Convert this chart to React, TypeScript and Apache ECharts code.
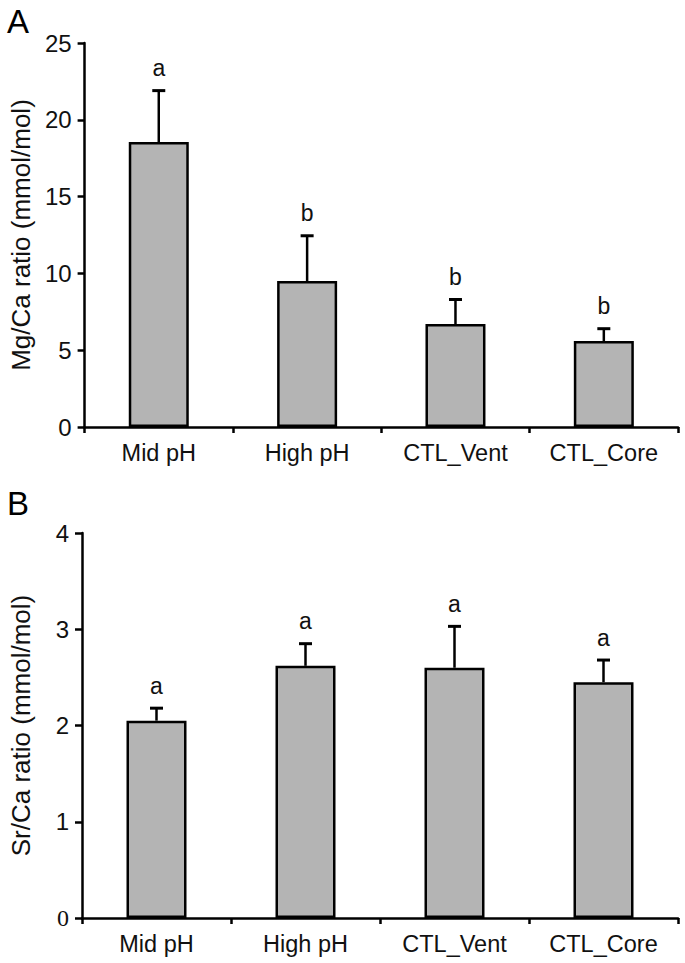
import React, { useEffect, useRef } from "react";
import * as echarts from "echarts";

const categories = ["Mid pH", "High pH", "CTL_Vent", "CTL_Core"];
const mgCaMean = [18.55, 9.5, 6.7, 5.6];
const mgCaSD = [3.35, 2.95, 1.6, 0.8];
const mgCaLetters = ["a", "b", "b", "b"];
const srCaMean = [2.05, 2.62, 2.6, 2.45];
const srCaSD = [0.13, 0.23, 0.43, 0.23];
const srCaLetters = ["a", "a", "a", "a"];
const mgCaTicks = { min: 0, max: 25, interval: 5 };
const srCaTicks = { min: 0, max: 4, interval: 1 };

const FONT = "'Liberation Sans', Arial, Helvetica, sans-serif";
const TXT = "#111111";
const BAR = "#b4b4b4";

function errorSeries(mean: number[], sd: number[], letters: string[], idx: number) {
  return {
    type: "custom",
    xAxisIndex: idx,
    yAxisIndex: idx,
    z: 5,
    data: mean.map((m, i) => [i, m, m + sd[i]]),
    renderItem: (params: any, api: any) => {
      const x = api.value(0);
      const p0 = api.coord([x, api.value(1)]);
      const p1 = api.coord([x, api.value(2)]);
      return {
        type: "group",
        children: [
          {
            type: "line",
            shape: { x1: p0[0], y1: p0[1], x2: p1[0], y2: p1[1] },
            style: { stroke: "#000", lineWidth: 2.5 },
          },
          {
            type: "line",
            shape: { x1: p1[0] - 6.5, y1: p1[1], x2: p1[0] + 6.5, y2: p1[1] },
            style: { stroke: "#000", lineWidth: 3 },
          },
          {
            type: "text",
            x: p1[0],
            y: p1[1] - 11,
            style: {
              text: letters[params.dataIndex],
              fill: TXT,
              fontSize: 23,
              fontFamily: FONT,
              align: "center",
              verticalAlign: "bottom",
            },
          },
        ],
      };
    },
  };
}

function catAxis(idx: number) {
  return {
    type: "category",
    gridIndex: idx,
    data: categories,
    axisLine: { show: true, lineStyle: { color: "#000", width: 2.5 } },
    axisTick: { show: true, length: 6, lineStyle: { color: "#000", width: 2.5 } },
    axisLabel: { color: TXT, fontSize: 23.5, fontFamily: FONT, margin: 14 },
    splitLine: { show: false },
  };
}

function valAxis(idx: number, ticks: any, name: string, serifZero: boolean) {
  return {
    type: "value",
    gridIndex: idx,
    min: ticks.min,
    max: ticks.max,
    interval: ticks.interval,
    name,
    nameLocation: "middle",
    nameRotate: 90,
    nameGap: 48,
    nameTextStyle: { color: TXT, fontSize: 26, fontFamily: FONT },
    axisLine: { show: true, lineStyle: { color: "#000", width: 2.5 } },
    axisTick: { show: true, length: 7, lineStyle: { color: "#000", width: 2.5 } },
    axisLabel: {
      color: TXT,
      fontSize: 24,
      fontFamily: FONT,
      margin: 13,
      formatter: (v: number) => (serifZero && v === 0 ? "{s|0}" : String(v)),
      rich: { s: { fontFamily: "'Liberation Serif', serif", fontSize: 24, color: TXT } },
    },
    splitLine: { show: false },
  };
}

function barSeries(mean: number[], idx: number) {
  return {
    type: "bar",
    xAxisIndex: idx,
    yAxisIndex: idx,
    barWidth: 60,
    data: mean,
    itemStyle: { color: BAR, borderColor: "#000", borderWidth: 2.5 },
    z: 3,
  };
}

export default function App() {
  const ref = useRef<HTMLDivElement>(null);
  useEffect(() => {
    if (!ref.current) return;
    const chart = echarts.init(ref.current, undefined, { renderer: "svg" });
    chart.setOption({
      animation: false,
      backgroundColor: "#ffffff",
      grid: [
        { left: 82, top: 43, width: 596, height: 384 },
        { left: 82, top: 533, width: 596, height: 385 },
      ],
      xAxis: [catAxis(0), catAxis(1)],
      yAxis: [
        valAxis(0, mgCaTicks, "Mg/Ca ratio (mmol/mol)", false),
        valAxis(1, srCaTicks, "Sr/Ca ratio (mmol/mol)", true),
      ],
      graphic: [
        { type: "text", left: 7, top: 5, style: { text: "A", fontSize: 33, fontFamily: FONT, fill: "#000" } },
        { type: "text", left: 7, top: 487, style: { text: "B", fontSize: 33, fontFamily: FONT, fill: "#000" } },
      ],
      series: [
        barSeries(mgCaMean, 0),
        errorSeries(mgCaMean, mgCaSD, mgCaLetters, 0),
        barSeries(srCaMean, 1),
        errorSeries(srCaMean, srCaSD, srCaLetters, 1),
      ],
    });
    return () => chart.dispose();
  }, []);
  return (
    <div
      ref={ref}
      style={{ position: "absolute", left: 0, top: 0, width: 685, height: 963, background: "#fff" }}
    />
  );
}
